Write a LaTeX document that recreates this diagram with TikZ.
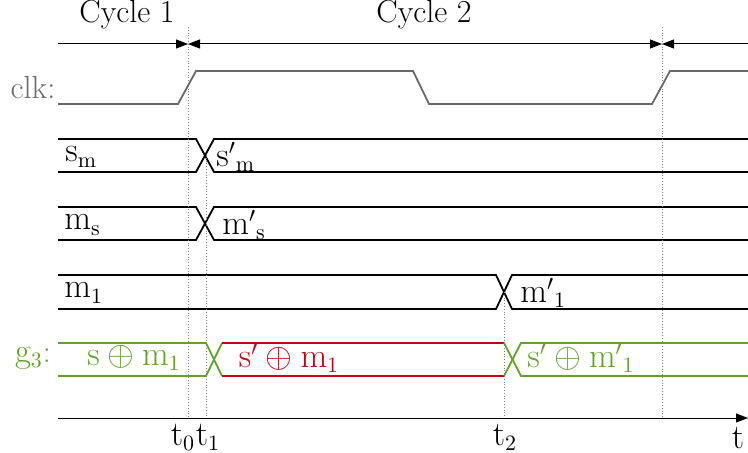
\documentclass[tikz,border=0pt]{standalone}
\usetikzlibrary{arrows.meta}
\definecolor{gthree}{RGB}{98,162,40}
\definecolor{gred}{RGB}{200,0,20}
\definecolor{clkgray}{RGB}{105,105,105}
\begin{document}
\begin{tikzpicture}[x=0.5pt,y=-0.5pt,
	font=\fontsize{16}{19}\selectfont,
	sig/.style={ line width=0.9pt },
	clksig/.style={ clkgray, line width=0.9pt },
	guide/.style={ gray, densely dotted, line width=0.4pt },
	span/.style={ line width=0.5pt, {Triangle[length=6pt,width=4.5pt]}-{Triangle[length=6pt,width=4.5pt]} },
	lbl/.style={ inner sep=0pt, anchor=west },
	tick/.style={ inner sep=0pt }
]
\useasboundingbox (0,0) rectangle (748,453);

\coordinate (c0) at (58,44);
\coordinate (c1) at (188,44);
\coordinate (c2) at (662,44);
\coordinate (c3) at (748,44);
\draw[line width=0.5pt,-{Triangle[length=6pt,width=4.5pt]}] (c0) -- (c1);
\draw[span] (c1) -- (c2);
\draw[line width=0.5pt,-{Triangle[length=6pt,width=4.5pt]}] (c3) -- (c2);
\node at (127,15) (cyc1) {Cycle 1};
\node at (424,15) (cyc2) {Cycle 2};

\node at (33,88) (clk) [clkgray] {clk:};
\draw[clksig] (58,104) -- (178,104) -- (196,71) -- (413,71) -- (429,104) -- (652,104) -- (670,71) -- (748,71);

\foreach \y in {139,207} {
	\draw[sig] (58,\y) -- (196,\y) -- (214,\y+33) -- (748,\y+33);
	\draw[sig] (58,\y+33) -- (196,\y+33) -- (214,\y) -- (748,\y);
}
\draw[sig] (58,275) -- (496,275) -- (512,309) -- (748,309);
\draw[sig] (58,309) -- (496,309) -- (512,275) -- (748,275);

\node at (65,157) (sm) [lbl] {$\mathrm{s}_{\mathrm{m}}$};
\node at (216,157) (smp) [lbl] {${\mathrm{s}'}_{\mathrm{m}}$};
\node at (64,225) (ms) [lbl] {$\mathrm{m}_{\mathrm{s}}$};
\node at (222,225) (msp) [lbl] {${\mathrm{m}'}_{\mathrm{s}}$};
\node at (64,293) (mone) [lbl] {$\mathrm{m}_{1}$};
\node at (520,293) (monep) [lbl] {${\mathrm{m}'}_{1}$};

\draw[sig,gthree] (58,343) -- (206,343) -- (222,376);
\draw[sig,gthree] (58,376) -- (206,376) -- (222,343);
\draw[sig,gred] (222,343) -- (504,343);
\draw[sig,gred] (222,376) -- (504,376);
\draw[sig,gthree] (504,343) -- (521,376) -- (748,376);
\draw[sig,gthree] (504,376) -- (521,343) -- (748,343);

\node at (33,358) (gthr) [gthree] {$\mathrm{g}_3$:};
\node at (134,358) (xa) [gthree] {$\mathrm{s}\oplus\mathrm{m}_{1}$};
\node at (289,358) (xb) [gred] {$\mathrm{s}'\oplus\mathrm{m}_{1}$};
\node at (581,358) (xc) [gthree] {$\mathrm{s}'\oplus{\mathrm{m}'}_{1}$};

\coordinate (ax0) at (58,418);
\coordinate (ax1) at (748,418);
\draw[line width=0.5pt,-{Triangle[length=6pt,width=4.5pt]}] (ax0) -- (ax1);

\draw[guide] (188,27) -- (188,418);
\draw[guide] (206,155) -- (206,418);
\draw[guide] (504,292) -- (504,418);
\draw[guide] (662,27) -- (662,418);

\node at (183,437) (tzero) [tick] {$\mathrm{t}_0$};
\node at (208,437) (tone) [tick] {$\mathrm{t}_1$};
\node at (505,437) (ttwo) [tick] {$\mathrm{t}_2$};
\node at (738,438) (tee) [tick] {$\mathrm{t}$};

\end{tikzpicture}
\end{document}
